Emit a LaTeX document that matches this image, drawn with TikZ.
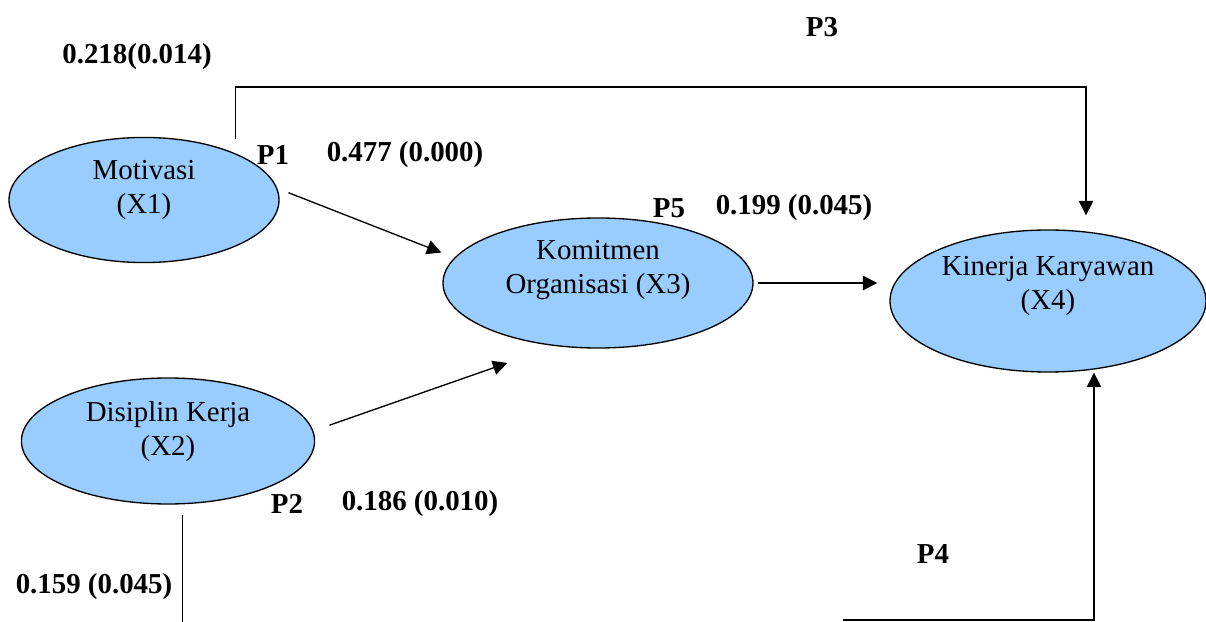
\documentclass[tikz,border=0pt]{standalone}
\usepackage{fontspec}
\setmainfont{Liberation Serif}
\usetikzlibrary{arrows.meta,shapes.geometric}
\definecolor{VarBlue}{HTML}{99CCFF}
\tikzset{every node/.style={font=\fontsize{12}{14}\selectfont}}
\tikzset{
  varnode/.style={ellipse,draw=black,line width=0.6pt,fill=VarBlue,inner sep=0pt},
  vartext/.style={align=center,font=\fontsize{13}{15.3}\selectfont},
  coef/.style={font=\fontsize{13}{15}\selectfont\bfseries},
  link/.style={line width=0.6pt},
  linkarr/.style={link,-{Triangle[length=6.5pt,width=6.5pt]}}
}

\begin{document}
\begin{tikzpicture}[x=0.45pt,y=-0.45pt]
  \useasboundingbox (0,0) rectangle (1206,622);
  % --- variables ---
  \node[varnode,minimum width=121.5pt,minimum height=56.3pt] (x1) at (144,200) {};
  \node[vartext] (x1t) at (144,190) {Motivasi\\(X1)};
  \node[varnode,minimum width=131.9pt,minimum height=56.7pt] (x2) at (168,441) {};
  \node[vartext] (x2t) at (168,432) {Disiplin Kerja\\(X2)};
  \node[varnode,minimum width=139.5pt,minimum height=58.5pt] (x3) at (598,283) {};
  \node[vartext] (x3t) at (598,270) {Komitmen\\Organisasi (X3)};
  \node[varnode,minimum width=142.2pt,minimum height=63.9pt] (x4) at (1048,301) {};
  \node[vartext] (x4t) at (1048,286) {Kinerja Karyawan\\(X4)};
  % --- corner points of the long paths ---
  \coordinate (p3c) at (1086,87);
  \coordinate (p4s) at (843,620);
  \coordinate (p4c) at (1094,620);
  % --- direct paths ---
  \draw[linkarr,shorten <=5.4pt,shorten >=6.3pt] (x1.5) -- (x3.170);
  \draw[linkarr,shorten <=7.7pt,shorten >=22.9pt] (x2.4) -- (x3.236);
  \draw[linkarr,shorten <=1.8pt,shorten >=5.4pt] (x3.east) -- (x3.east -| x4.west);
  % --- P3: X1 over the top to X4 ---
  \draw[linkarr,shorten <=6.3pt,shorten >=6.3pt] (x1.27) |- (p3c) -- (p3c |- x4.north);
  % --- P4: X2 under the bottom to X4 ---
  \draw[link,shorten <=5pt] (x2.283) -- ++(0,130);
  \draw[linkarr] (p4s) -- (p4c) -- (p4c |- x4.south);
  % --- coefficients ---
  \node[coef] (c218) at (137,57) {0.218(0.014)};
  \node[coef] (lp3) at (822,27) {P3};
  \node[coef] (lp1) at (273,155) {P1};
  \node[coef] (c477) at (405,155) {0.477 (0.000)};
  \node[coef] (lp5) at (669,208) {P5};
  \node[coef] (c199) at (794,208) {0.199 (0.045)};
  \node[coef] (lp2) at (287,504) {P2};
  \node[coef] (c186) at (420,504) {0.186 (0.010)};
  \node[coef] (c159) at (94,587) {0.159 (0.045)};
  \node[coef] (lp4) at (933,554) {P4};
\end{tikzpicture}
\end{document}
